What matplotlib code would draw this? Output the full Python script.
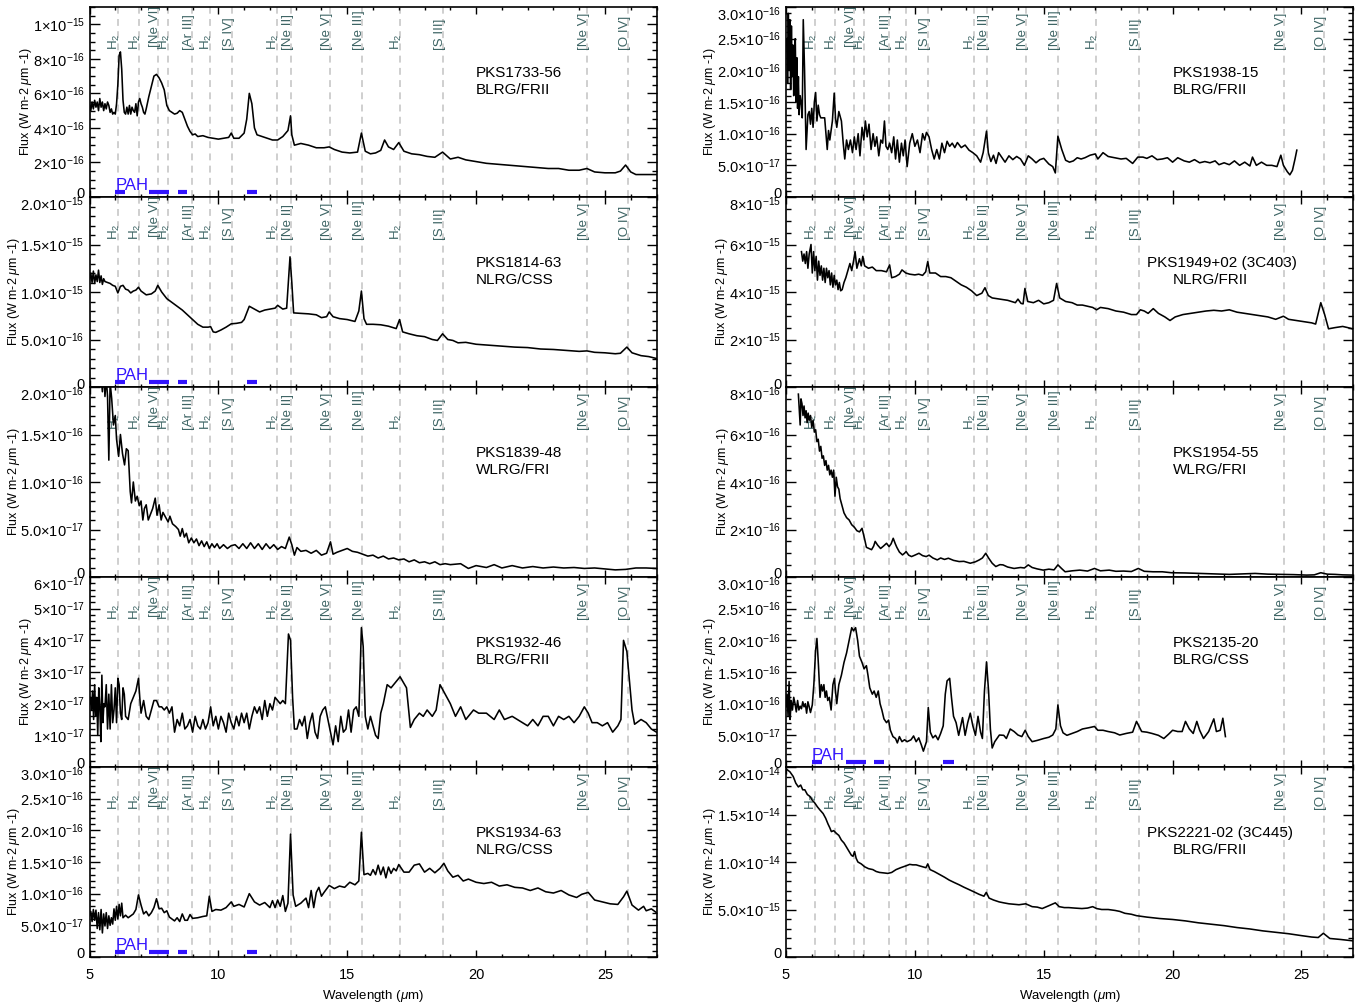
# Mid-IR spectra of 2Jy radio galaxies with emission-line markers
import matplotlib
matplotlib.use('Agg')
import matplotlib.pyplot as plt
import numpy as np
from matplotlib.ticker import MultipleLocator, FixedLocator, FixedFormatter
from matplotlib.transforms import ScaledTranslation

plt.rcParams['font.family'] = ['Liberation Sans', 'DejaVu Sans']
plt.rcParams['mathtext.fontset'] = 'custom'
plt.rcParams['mathtext.rm'] = 'Liberation Sans'
plt.rcParams['mathtext.it'] = 'Liberation Sans:italic'
plt.rcParams['mathtext.bf'] = 'Liberation Sans:bold'

# emission lines (micron) and their labels
line_wl = [6.11, 6.91, 7.65, 8.03, 8.99, 9.66, 10.51, 12.28, 12.81, 14.32,
           15.56, 17.03, 18.71, 24.32, 25.89]
line_names = ['H$_2$', 'H$_2$', '[Ne VI]', 'H$_2$', '[Ar III]', 'H$_2$', '[S IV]',
              'H$_2$', '[Ne II]', '[Ne V]', '[Ne III]', 'H$_2$', '[S III]',
              '[Ne V]', '[O IV]']
pah_lo = [6.0, 7.32, 8.42, 11.1]
pah_hi = [6.38, 8.1, 8.8, 11.5]

# spectra: (wavelength, flux in units given per panel)
spec_1733 = [  # 1e-16
    (5.0, 5.4), (5.05, 5.0), (5.1, 5.5), (5.15, 5.1), (5.2, 5.6), (5.25, 5.2), (5.3, 5.5),
    (5.35, 5.0), (5.4, 5.7), (5.45, 5.2), (5.5, 5.5), (5.55, 5.0), (5.6, 5.4), (5.65, 5.1),
    (5.7, 5.5), (5.75, 5.3), (5.8, 4.9), (5.85, 5.1), (5.9, 4.8), (5.95, 4.9), (6.0, 4.8),
    (6.05, 5.4), (6.1, 6.5), (6.15, 8.2), (6.2, 8.4), (6.25, 7.4), (6.3, 5.6), (6.35, 4.9),
    (6.4, 4.8), (6.45, 5.2), (6.5, 4.8), (6.55, 5.3), (6.6, 4.8), (6.65, 5.2), (6.7, 5.0),
    (6.75, 4.9), (6.8, 5.4), (6.85, 4.7), (6.9, 5.5), (6.95, 5.7), (7.0, 5.4), (7.05, 5.2),
    (7.1, 4.9), (7.15, 4.8), (7.2, 5.1), (7.3, 5.8), (7.4, 6.4), (7.5, 7.0), (7.6, 7.1),
    (7.7, 6.9), (7.8, 6.6), (7.9, 6.2), (8.0, 5.3), (8.1, 5.0), (8.2, 4.9), (8.3, 4.8),
    (8.4, 4.85), (8.5, 5.0), (8.6, 4.9), (8.7, 4.5), (8.8, 4.1), (8.9, 3.8), (9.0, 3.6),
    (9.1, 3.65), (9.2, 3.5), (9.4, 3.55), (9.6, 3.45), (9.8, 3.4), (10.0, 3.35), (10.2, 3.4),
    (10.4, 3.45), (10.5, 3.7), (10.6, 3.4), (10.8, 3.4), (11.0, 3.7), (11.1, 4.5), (11.2, 6.0),
    (11.3, 5.4), (11.4, 4.0), (11.5, 3.6), (11.7, 3.5), (11.9, 3.4), (12.1, 3.3), (12.3, 3.3),
    (12.5, 3.5), (12.7, 3.85), (12.8, 4.7), (12.85, 3.6), (12.95, 3.0), (13.2, 3.1), (13.5, 3.0),
    (13.8, 2.85), (14.1, 2.85), (14.3, 2.9), (14.5, 2.75), (14.8, 2.6), (15.1, 2.55), (15.4, 2.6),
    (15.55, 3.7), (15.7, 2.65), (15.9, 2.5), (16.1, 2.55), (16.3, 2.7), (16.45, 3.3), (16.6, 2.9),
    (16.8, 2.75), (17.0, 3.15), (17.2, 2.65), (17.5, 2.5), (17.8, 2.45), (18.1, 2.35), (18.4, 2.3),
    (18.7, 2.6), (19.0, 2.2), (19.3, 2.3), (19.6, 2.15), (20.0, 2.05), (20.4, 1.95), (20.8, 1.9),
    (21.2, 1.85), (21.6, 1.8), (22.0, 1.75), (22.4, 1.7), (22.8, 1.65), (23.2, 1.65), (23.6, 1.55),
    (24.0, 1.55), (24.3, 1.65), (24.6, 1.45), (25.0, 1.4), (25.4, 1.4), (25.6, 1.5), (25.8, 1.85),
    (26.0, 1.45), (26.2, 1.3), (26.6, 1.3), (27.0, 1.3)]

spec_1814 = [  # 1e-16
    (5.0, 11.3), (5.05, 12.0), (5.1, 11.0), (5.15, 12.2), (5.2, 10.9), (5.25, 11.8), (5.3, 11.1),
    (5.35, 12.3), (5.4, 11.0), (5.45, 11.7), (5.5, 10.8), (5.55, 11.4), (5.6, 11.1), (5.7, 11.0),
    (5.8, 10.9), (5.9, 10.7), (6.0, 10.6), (6.1, 9.9), (6.2, 10.6), (6.3, 10.7), (6.4, 10.3),
    (6.5, 10.2), (6.6, 9.9), (6.7, 10.1), (6.8, 10.2), (6.9, 10.5), (7.0, 10.1), (7.2, 9.7),
    (7.4, 9.8), (7.55, 10.1), (7.65, 10.7), (7.8, 10.0), (8.0, 9.3), (8.2, 8.9), (8.4, 8.5),
    (8.6, 8.1), (8.8, 7.6), (9.0, 7.1), (9.2, 6.6), (9.4, 6.3), (9.6, 6.3), (9.7, 6.35),
    (9.8, 5.8), (9.9, 5.75), (10.1, 6.0), (10.3, 6.3), (10.5, 6.65), (10.7, 6.7), (10.9, 6.8),
    (11.0, 7.1), (11.2, 8.5), (11.4, 8.2), (11.6, 7.9), (11.8, 8.1), (12.0, 8.2), (12.2, 8.3),
    (12.3, 8.6), (12.5, 8.2), (12.65, 8.3), (12.78, 13.7), (12.85, 11.0), (12.92, 7.8),
    (13.2, 7.75), (13.5, 7.7), (13.8, 7.6), (14.0, 7.3), (14.2, 7.4), (14.3, 7.9), (14.45, 7.4),
    (14.7, 7.2), (15.0, 7.1), (15.3, 6.9), (15.45, 8.0), (15.55, 10.1), (15.65, 7.2), (15.75, 6.6),
    (16.0, 6.6), (16.3, 6.55), (16.6, 6.4), (16.9, 6.15), (17.03, 7.1), (17.15, 5.8), (17.4, 5.6),
    (17.7, 5.4), (18.0, 5.3), (18.3, 5.0), (18.5, 4.9), (18.7, 5.6), (18.9, 5.0), (19.1, 4.9),
    (19.3, 4.65), (19.6, 4.7), (20.0, 4.5), (20.5, 4.4), (21.0, 4.3), (21.5, 4.2), (22.0, 4.15),
    (22.5, 4.0), (23.0, 3.95), (23.5, 3.85), (24.0, 3.75), (24.3, 3.8), (24.6, 3.65), (25.0, 3.6),
    (25.4, 3.5), (25.6, 3.55), (25.85, 4.2), (26.05, 3.6), (26.4, 3.3), (26.7, 3.2), (27.0, 3.0)]

spec_1839 = [  # 1e-17
    (5.45, 21), (5.5, 19.5), (5.55, 22), (5.6, 19), (5.65, 21), (5.7, 19), (5.75, 12.3),
    (5.8, 20.5), (5.86, 18.8), (5.93, 16.0), (6.0, 17.0), (6.05, 14.5), (6.13, 12.7), (6.2, 15.0),
    (6.28, 13.0), (6.36, 11.8), (6.43, 13.5), (6.5, 13.3), (6.58, 9.0), (6.63, 7.8), (6.7, 10.0),
    (6.78, 8.0), (6.85, 8.5), (6.93, 7.5), (7.0, 8.0), (7.07, 6.0), (7.13, 7.2), (7.2, 7.6),
    (7.28, 6.0), (7.35, 6.5), (7.45, 7.2), (7.55, 8.3), (7.62, 6.5), (7.7, 7.6), (7.78, 6.0),
    (7.85, 6.8), (7.95, 6.3), (8.05, 5.8), (8.12, 6.4), (8.22, 5.6), (8.35, 5.3), (8.45, 5.0),
    (8.52, 4.3), (8.6, 5.1), (8.68, 4.2), (8.76, 4.6), (8.85, 3.6), (8.95, 4.1), (9.05, 3.6),
    (9.15, 4.0), (9.25, 3.3), (9.35, 3.8), (9.45, 3.2), (9.55, 3.7), (9.65, 3.0), (9.75, 3.5),
    (9.85, 3.1), (9.95, 3.5), (10.05, 3.0), (10.2, 3.4), (10.35, 3.0), (10.5, 3.3), (10.65, 3.4),
    (10.8, 3.0), (10.95, 3.5), (11.1, 3.0), (11.25, 3.6), (11.4, 3.0), (11.55, 3.5), (11.7, 2.9),
    (11.85, 3.5), (12.0, 3.0), (12.15, 3.4), (12.3, 2.9), (12.45, 3.2), (12.6, 3.0), (12.75, 4.2),
    (12.85, 3.4), (12.95, 2.3), (13.05, 3.1), (13.2, 2.7), (13.4, 2.8), (13.6, 2.5), (13.8, 2.8),
    (14.0, 2.3), (14.2, 2.5), (14.35, 3.7), (14.45, 2.4), (14.6, 2.6), (14.8, 2.8), (15.0, 3.0),
    (15.2, 2.7), (15.4, 2.6), (15.6, 2.4), (15.8, 2.2), (16.0, 2.3), (16.2, 2.0), (16.4, 2.2),
    (16.6, 1.9), (16.8, 2.0), (17.0, 1.8), (17.2, 1.9), (17.4, 1.6), (17.6, 1.8), (17.8, 1.5),
    (18.0, 1.6), (18.2, 1.4), (18.4, 1.6), (18.6, 1.3), (18.8, 1.4), (19.0, 1.3), (19.4, 1.4),
    (19.7, 0.9), (20.0, 1.2), (20.4, 1.0), (20.7, 1.3), (21.0, 0.95), (21.4, 1.2), (21.8, 0.95),
    (22.2, 1.1), (22.6, 0.95), (23.0, 1.05), (23.4, 0.95), (23.8, 1.0), (24.2, 0.9), (24.6, 0.95),
    (25.0, 0.85), (25.4, 0.75), (25.8, 0.8), (26.2, 0.95), (26.6, 0.95), (27.0, 0.9)]

spec_1932 = [  # 1e-17
    (5.0, 2.0), (5.04, 2.2), (5.08, 1.8), (5.12, 2.4), (5.16, 1.5), (5.2, 2.6), (5.24, 1.6),
    (5.28, 2.2), (5.32, 1.0), (5.36, 2.5), (5.4, 1.9), (5.44, 0.8), (5.48, 2.9), (5.52, 1.4),
    (5.56, 2.0), (5.6, 1.9), (5.65, 2.6), (5.7, 1.2), (5.75, 2.3), (5.8, 1.2), (5.85, 2.6),
    (5.9, 1.4), (5.95, 1.8), (6.0, 2.5), (6.05, 1.4), (6.1, 2.8), (6.15, 2.6), (6.2, 1.7),
    (6.25, 1.5), (6.3, 2.5), (6.35, 2.3), (6.4, 1.6), (6.5, 1.5), (6.6, 2.0), (6.7, 2.2),
    (6.8, 2.4), (6.9, 2.8), (6.95, 2.2), (7.0, 1.7), (7.1, 2.1), (7.2, 1.6), (7.3, 1.5),
    (7.4, 1.8), (7.5, 2.1), (7.6, 2.1), (7.7, 1.9), (7.8, 1.9), (7.9, 1.8), (8.0, 1.9),
    (8.1, 1.7), (8.2, 1.9), (8.3, 1.1), (8.4, 1.5), (8.5, 1.3), (8.6, 1.7), (8.7, 1.2),
    (8.8, 1.3), (8.9, 1.5), (9.0, 1.1), (9.1, 1.6), (9.2, 1.3), (9.3, 1.2), (9.4, 1.5),
    (9.5, 1.2), (9.6, 1.4), (9.7, 1.9), (9.8, 1.3), (9.9, 1.6), (10.0, 1.2), (10.1, 1.6),
    (10.2, 1.4), (10.3, 1.1), (10.4, 1.7), (10.5, 1.4), (10.6, 1.2), (10.7, 1.6), (10.8, 1.3),
    (10.9, 1.7), (11.0, 1.4), (11.1, 1.7), (11.2, 1.2), (11.3, 1.6), (11.4, 1.9), (11.5, 1.7),
    (11.6, 1.9), (11.7, 1.5), (11.8, 2.1), (11.9, 1.6), (12.0, 2.0), (12.1, 1.8), (12.2, 2.2),
    (12.3, 2.1), (12.4, 2.0), (12.5, 2.1), (12.6, 2.0), (12.72, 4.2), (12.8, 4.0), (12.88, 2.2),
    (12.95, 1.2), (13.05, 1.2), (13.15, 1.5), (13.25, 1.3), (13.35, 1.6), (13.45, 0.9),
    (13.55, 1.4), (13.65, 1.7), (13.75, 1.1), (13.85, 0.9), (13.95, 1.6), (14.05, 1.8),
    (14.15, 1.9), (14.25, 1.5), (14.35, 1.1), (14.45, 0.7), (14.55, 1.3), (14.65, 0.8),
    (14.75, 1.6), (14.85, 1.1), (14.95, 1.2), (15.05, 1.8), (15.15, 1.1), (15.25, 1.8),
    (15.35, 1.9), (15.45, 1.6), (15.55, 4.4), (15.62, 3.8), (15.7, 1.6), (15.8, 1.2),
    (15.9, 1.6), (16.0, 1.3), (16.1, 1.0), (16.2, 0.9), (16.3, 1.7), (16.4, 2.0), (16.55, 2.6),
    (16.7, 2.5), (16.9, 2.7), (17.05, 2.85), (17.3, 2.5), (17.45, 1.25), (17.6, 1.5),
    (17.8, 1.7), (17.95, 1.6), (18.1, 1.8), (18.3, 1.6), (18.45, 1.8), (18.6, 2.6), (18.8, 2.3),
    (19.0, 2.0), (19.2, 1.6), (19.4, 1.9), (19.6, 1.5), (19.9, 1.8), (20.1, 1.7), (20.4, 1.7),
    (20.7, 1.5), (20.9, 1.8), (21.1, 1.5), (21.4, 1.6), (21.6, 1.5), (21.8, 1.4), (22.0, 1.3),
    (22.2, 1.5), (22.4, 1.3), (22.6, 1.6), (22.8, 1.6), (23.0, 1.3), (23.2, 1.6), (23.4, 1.5),
    (23.6, 1.6), (23.8, 1.4), (24.0, 1.6), (24.2, 1.9), (24.35, 1.7), (24.5, 1.4), (24.7, 1.4),
    (24.9, 1.3), (25.1, 1.4), (25.3, 1.1), (25.5, 1.3), (25.62, 1.5), (25.72, 4.0),
    (25.85, 3.65), (26.05, 1.8), (26.15, 1.35), (26.4, 1.5), (26.6, 1.4), (26.8, 1.2), (27.0, 1.1)]

spec_1934 = [  # 1e-17
    (5.0, 6.5), (5.05, 7.2), (5.1, 5.6), (5.15, 7.5), (5.2, 5.8), (5.25, 7.4), (5.3, 4.5),
    (5.35, 7.0), (5.4, 4.3), (5.45, 7.5), (5.5, 3.8), (5.55, 6.8), (5.6, 4.9), (5.65, 7.0),
    (5.7, 4.5), (5.75, 6.5), (5.8, 5.0), (5.85, 6.2), (5.9, 5.2), (5.95, 7.6), (6.0, 5.8),
    (6.05, 8.0), (6.1, 6.0), (6.15, 8.3), (6.2, 6.5), (6.25, 8.5), (6.3, 6.2), (6.4, 6.6),
    (6.5, 6.2), (6.6, 6.5), (6.7, 6.8), (6.8, 7.5), (6.9, 9.8), (7.0, 8.2), (7.1, 6.8),
    (7.2, 7.2), (7.3, 6.5), (7.4, 7.0), (7.5, 7.8), (7.6, 9.2), (7.7, 7.6), (7.8, 7.7),
    (7.9, 7.0), (8.0, 7.3), (8.1, 6.3), (8.2, 6.0), (8.3, 5.7), (8.4, 6.2), (8.5, 5.6),
    (8.6, 6.8), (8.7, 5.8), (8.8, 5.8), (8.9, 6.7), (9.0, 6.1), (9.2, 6.2), (9.4, 6.4),
    (9.55, 6.5), (9.65, 9.6), (9.75, 7.2), (9.9, 7.5), (10.1, 7.4), (10.3, 7.8), (10.5, 8.7),
    (10.6, 8.0), (10.8, 8.3), (11.0, 7.9), (11.2, 10.0), (11.4, 8.7), (11.6, 8.2), (11.8, 8.6),
    (12.0, 7.8), (12.1, 8.9), (12.2, 7.8), (12.3, 9.0), (12.4, 8.0), (12.5, 9.7), (12.6, 7.2),
    (12.7, 8.5), (12.8, 19.4), (12.9, 9.8), (13.0, 8.0), (13.2, 8.5), (13.4, 9.3), (13.5, 7.8),
    (13.6, 10.5), (13.7, 7.8), (13.8, 10.2), (13.9, 11.0), (14.0, 9.6), (14.1, 10.2),
    (14.3, 11.3), (14.5, 10.8), (14.7, 11.2), (14.9, 11.0), (15.1, 11.8), (15.3, 11.4),
    (15.45, 12.0), (15.55, 19.7), (15.65, 13.0), (15.8, 13.2), (15.9, 12.9), (16.0, 13.8),
    (16.1, 13.0), (16.2, 14.5), (16.3, 13.0), (16.4, 14.2), (16.5, 12.5), (16.6, 14.2),
    (16.7, 13.2), (16.8, 14.0), (16.9, 13.6), (17.0, 14.6), (17.2, 13.4), (17.4, 13.4),
    (17.6, 14.5), (17.8, 14.7), (18.0, 13.4), (18.2, 14.0), (18.4, 13.3), (18.6, 14.0),
    (18.75, 14.8), (18.9, 13.6), (19.1, 12.6), (19.3, 12.9), (19.5, 12.0), (19.7, 12.3),
    (20.0, 11.8), (20.3, 11.6), (20.6, 11.8), (20.9, 11.2), (21.2, 11.4), (21.5, 11.0),
    (21.8, 10.9), (22.1, 10.5), (22.4, 10.9), (22.7, 10.3), (23.0, 10.1), (23.3, 10.5),
    (23.6, 9.8), (23.9, 9.4), (24.1, 9.9), (24.35, 10.2), (24.6, 9.0), (24.9, 8.7),
    (25.2, 8.4), (25.5, 8.3), (25.72, 9.5), (25.85, 10.4), (26.05, 8.2), (26.3, 7.4),
    (26.5, 8.0), (26.6, 7.3), (26.8, 7.6), (27.0, 7.0)]

spec_1938 = [  # 1e-17
    (5.03, 25), (5.06, 18), (5.09, 29), (5.12, 20), (5.15, 28), (5.18, 17), (5.21, 27),
    (5.24, 19), (5.27, 24), (5.3, 16), (5.33, 22), (5.36, 25), (5.39, 15), (5.42, 22),
    (5.45, 14), (5.48, 19), (5.51, 13), (5.55, 16), (5.6, 14.5), (5.63, 12.5), (5.67, 28),
    (5.72, 20), (5.78, 7.5), (5.85, 13), (5.9, 13.5), (5.95, 11.5), (6.0, 14), (6.05, 11.0),
    (6.1, 15.0), (6.15, 16.5), (6.2, 12.0), (6.25, 14.5), (6.3, 13.0), (6.35, 12.5),
    (6.4, 12.5), (6.5, 12.5), (6.6, 7.5), (6.65, 10.5), (6.7, 9.0), (6.8, 12.0), (6.87, 16.4),
    (6.92, 12.5), (6.97, 11.0), (7.05, 13.5), (7.15, 12.0), (7.22, 8.5), (7.28, 6.0),
    (7.35, 9.0), (7.42, 7.5), (7.5, 9.0), (7.58, 7.0), (7.65, 9.5), (7.72, 7.5), (7.8, 10.0),
    (7.87, 6.5), (7.95, 11.0), (8.02, 9.0), (8.08, 12.0), (8.15, 9.5), (8.22, 11.5), (8.3, 7.5),
    (8.38, 10.0), (8.45, 8.0), (8.52, 9.5), (8.6, 6.5), (8.68, 9.0), (8.75, 8.5), (8.82, 12.0),
    (8.88, 8.0), (8.95, 7.5), (9.02, 8.5), (9.1, 7.0), (9.18, 9.5), (9.25, 6.0), (9.32, 9.0),
    (9.4, 5.5), (9.48, 8.5), (9.55, 6.5), (9.62, 9.0), (9.7, 4.8), (9.8, 8.5), (9.9, 10.0),
    (10.0, 8.0), (10.1, 9.0), (10.2, 7.0), (10.3, 10.0), (10.38, 9.0), (10.45, 10.2),
    (10.55, 9.5), (10.65, 7.5), (10.75, 6.0), (10.85, 7.5), (10.95, 6.0), (11.05, 8.5),
    (11.15, 7.0), (11.25, 8.8), (11.35, 8.0), (11.45, 8.5), (11.55, 7.8), (11.65, 8.6),
    (11.8, 7.8), (11.95, 8.2), (12.1, 7.4), (12.25, 7.0), (12.4, 6.5), (12.55, 5.5),
    (12.65, 7.0), (12.78, 10.4), (12.85, 7.0), (12.95, 5.6), (13.05, 6.6), (13.15, 5.3),
    (13.25, 7.0), (13.35, 6.4), (13.5, 5.5), (13.65, 6.5), (13.8, 5.9), (13.95, 6.4),
    (14.1, 6.0), (14.25, 5.0), (14.4, 6.5), (14.55, 6.0), (14.7, 5.4), (14.85, 5.9),
    (15.0, 6.1), (15.2, 5.2), (15.35, 4.8), (15.45, 3.8), (15.55, 9.6), (15.7, 7.5),
    (15.85, 5.8), (16.0, 5.5), (16.15, 5.7), (16.3, 6.2), (16.45, 6.0), (16.6, 6.2),
    (16.8, 6.6), (17.0, 6.8), (17.1, 6.0), (17.3, 7.0), (17.5, 6.4), (17.75, 6.2), (18.0, 6.0),
    (18.2, 6.1), (18.45, 5.3), (18.65, 6.3), (18.85, 6.3), (19.0, 6.1), (19.2, 6.5),
    (19.4, 5.9), (19.6, 6.0), (19.8, 6.2), (20.0, 5.5), (20.2, 6.2), (20.45, 5.7),
    (20.65, 5.5), (20.85, 5.9), (21.05, 5.4), (21.25, 5.6), (21.45, 5.4), (21.65, 5.7),
    (21.8, 5.1), (22.0, 5.4), (22.2, 5.1), (22.4, 5.7), (22.6, 5.0), (22.8, 5.5), (23.0, 4.9),
    (23.1, 6.3), (23.25, 5.0), (23.45, 5.5), (23.65, 5.0), (23.85, 5.0), (24.05, 4.8),
    (24.2, 6.6), (24.3, 5.0), (24.45, 4.0), (24.55, 3.5), (24.65, 4.2), (24.75, 6.0),
    (24.82, 7.4)]

spec_1949 = [  # 1e-16
    (5.6, 57), (5.65, 53), (5.7, 56), (5.75, 52), (5.8, 57), (5.85, 50), (5.9, 56), (5.97, 60),
    (6.02, 48), (6.07, 57), (6.12, 49), (6.17, 55), (6.22, 45), (6.27, 53), (6.32, 47),
    (6.37, 51), (6.42, 45), (6.47, 50), (6.52, 44), (6.57, 50), (6.62, 46), (6.67, 49),
    (6.72, 43), (6.77, 48), (6.82, 42), (6.87, 47), (6.92, 43), (6.97, 45), (7.02, 41),
    (7.07, 44), (7.12, 40.5), (7.18, 41), (7.25, 44), (7.32, 46), (7.4, 49), (7.48, 52),
    (7.55, 49), (7.62, 53), (7.68, 57), (7.75, 50), (7.85, 54), (7.92, 51), (7.98, 55),
    (8.05, 51), (8.2, 50), (8.35, 50.5), (8.5, 49), (8.7, 49), (8.9, 48.5), (9.02, 51.4),
    (9.1, 46), (9.25, 46.5), (9.4, 47.5), (9.5, 49.3), (9.65, 48), (9.8, 47.5), (10.0, 47.2),
    (10.15, 47.5), (10.3, 47), (10.42, 48.5), (10.5, 52.8), (10.58, 48), (10.8, 48),
    (11.0, 46.5), (11.2, 46.5), (11.4, 46), (11.6, 44.5), (11.8, 43), (12.0, 42), (12.2, 40.5),
    (12.4, 38.5), (12.6, 39.5), (12.72, 41.8), (12.85, 38.5), (13.0, 37.5), (13.3, 37.0),
    (13.6, 36.5), (13.9, 35.5), (14.0, 37.0), (14.12, 35.2), (14.2, 35), (14.27, 41.5),
    (14.38, 36), (14.6, 35.5), (14.8, 36.5), (15.0, 35), (15.2, 35.5), (15.38, 36.5),
    (15.5, 43.6), (15.62, 37.5), (15.85, 36), (16.1, 35.5), (16.3, 34.5), (16.5, 34.5),
    (16.7, 34), (16.9, 33.5), (17.05, 32.5), (17.2, 33.5), (17.5, 33), (17.8, 32), (18.1, 31.5),
    (18.4, 30.5), (18.6, 30.5), (18.75, 32.5), (18.9, 32), (19.05, 31), (19.25, 33.0),
    (19.45, 31), (19.7, 29.5), (19.9, 28), (20.1, 29.5), (20.4, 30.5), (20.7, 31), (21.0, 31.5),
    (21.3, 32), (21.6, 32.3), (21.9, 32), (22.2, 32.5), (22.5, 31.5), (22.8, 31), (23.1, 30.5),
    (23.4, 30), (23.7, 29.5), (24.0, 28.5), (24.3, 29.8), (24.5, 28.5), (24.8, 28), (25.1, 27.5),
    (25.4, 27), (25.55, 26.5), (25.75, 35.5), (25.9, 30.5), (26.05, 24.5), (26.3, 25),
    (26.6, 25.5), (26.8, 25), (27.0, 24.4)]

spec_1954 = [  # 1e-17
    (5.48, 77), (5.52, 70), (5.55, 64), (5.58, 75), (5.62, 73), (5.66, 68), (5.7, 72),
    (5.74, 67), (5.78, 70), (5.82, 65), (5.86, 69), (5.9, 66), (5.95, 68), (6.0, 63), (6.05, 66),
    (6.1, 61), (6.15, 62), (6.2, 57), (6.25, 58), (6.3, 53), (6.35, 55), (6.4, 50), (6.45, 51),
    (6.5, 47), (6.55, 49), (6.6, 45), (6.65, 47), (6.7, 43), (6.75, 45), (6.8, 42), (6.85, 45),
    (6.9, 34), (6.95, 42), (7.0, 38), (7.05, 37), (7.1, 33), (7.15, 31), (7.2, 29), (7.25, 27),
    (7.35, 25), (7.45, 24), (7.55, 22), (7.65, 21), (7.75, 19.5), (7.85, 19), (7.95, 20.5),
    (8.05, 16), (8.12, 12.5), (8.22, 12), (8.32, 11.5), (8.4, 13), (8.46, 15), (8.55, 13.5),
    (8.67, 12), (8.78, 13), (8.9, 14.2), (9.0, 12.8), (9.08, 14), (9.16, 16.3), (9.24, 14),
    (9.3, 12.5), (9.4, 10.5), (9.52, 9.3), (9.6, 10), (9.66, 10.7), (9.76, 9.2), (9.87, 8.6),
    (10.0, 9.2), (10.16, 10.0), (10.3, 9.0), (10.44, 8.6), (10.55, 9.2), (10.7, 8.0),
    (10.87, 7.2), (11.0, 8.0), (11.15, 7.4), (11.3, 7.9), (11.5, 7.0), (11.72, 6.5),
    (11.9, 6.6), (12.15, 5.8), (12.35, 6.4), (12.5, 7.2), (12.62, 8.0), (12.75, 10.0),
    (12.86, 8.0), (13.0, 5.8), (13.14, 4.4), (13.3, 5.2), (13.42, 5.1), (13.6, 4.2),
    (13.85, 3.6), (14.1, 4.0), (14.25, 3.8), (14.4, 5.1), (14.55, 4.0), (14.75, 3.4),
    (14.98, 2.9), (15.2, 3.3), (15.4, 3.0), (15.55, 5.1), (15.7, 3.5), (15.83, 2.2),
    (16.1, 2.6), (16.4, 2.9), (16.7, 2.5), (16.97, 3.6), (17.2, 2.6), (17.54, 2.9), (17.8, 2.4),
    (18.1, 2.5), (18.4, 2.3), (18.67, 3.6), (18.9, 2.4), (19.24, 2.2), (19.6, 2.2),
    (19.95, 1.8), (20.5, 1.7), (21.1, 1.5), (21.6, 1.3), (22.2, 1.1), (22.7, 1.3), (23.2, 1.5),
    (23.7, 1.2), (24.2, 1.1), (24.7, 1.0), (25.2, 0.8), (25.5, 0.9), (25.75, 1.8), (26.0, 1.2),
    (26.3, 1.1), (26.6, 0.9), (26.9, 0.8), (27.0, 0.8)]

spec_2135 = [  # 1e-17
    (5.0, 9.5), (5.04, 11.5), (5.08, 8.0), (5.12, 13.5), (5.16, 7.5), (5.2, 10.5), (5.25, 9.0),
    (5.3, 11.0), (5.35, 10.0), (5.4, 8.7), (5.45, 10.5), (5.5, 9.0), (5.55, 9.6), (5.6, 9.2),
    (5.65, 10.3), (5.7, 9.5), (5.75, 10.0), (5.8, 8.5), (5.85, 10.3), (5.9, 9.5), (5.95, 8.6),
    (6.02, 9.8), (6.08, 13.0), (6.15, 18.5), (6.2, 20.3), (6.26, 16.0), (6.32, 11.0),
    (6.37, 13.0), (6.42, 12.0), (6.47, 13.0), (6.52, 11.0), (6.57, 12.0), (6.62, 10.5),
    (6.68, 11.0), (6.75, 9.0), (6.82, 13.0), (6.88, 14.0), (6.92, 12.0), (6.97, 10.0),
    (7.05, 13.0), (7.15, 14.5), (7.25, 16.5), (7.35, 18.0), (7.45, 20.0), (7.55, 22.0),
    (7.62, 21.5), (7.7, 22.0), (7.78, 20.0), (7.85, 17.5), (7.95, 16.5), (8.03, 15.5),
    (8.12, 16.0), (8.18, 14.5), (8.25, 12.5), (8.35, 11.5), (8.42, 12.0), (8.5, 11.0),
    (8.58, 12.0), (8.65, 10.0), (8.72, 9.0), (8.8, 7.6), (8.9, 7.0), (8.98, 7.4), (9.05, 5.8),
    (9.15, 4.8), (9.25, 4.5), (9.32, 3.8), (9.4, 4.8), (9.5, 4.0), (9.6, 4.3), (9.7, 4.0),
    (9.85, 4.3), (9.95, 4.9), (10.05, 4.0), (10.15, 4.6), (10.25, 3.5), (10.33, 2.5),
    (10.45, 4.0), (10.52, 9.4), (10.6, 5.5), (10.7, 4.6), (10.8, 5.0), (10.9, 4.3), (11.0, 5.3),
    (11.1, 6.5), (11.18, 11.5), (11.25, 13.6), (11.35, 14.0), (11.42, 11.0), (11.5, 8.0),
    (11.6, 7.0), (11.7, 5.0), (11.78, 6.5), (11.85, 7.8), (11.95, 5.0), (12.05, 7.0),
    (12.15, 8.5), (12.25, 6.5), (12.35, 5.0), (12.45, 8.0), (12.55, 5.5), (12.62, 4.5),
    (12.7, 12.0), (12.78, 16.6), (12.86, 12.0), (12.93, 6.0), (13.0, 3.0), (13.1, 4.0),
    (13.28, 5.05), (13.45, 5.0), (13.55, 4.5), (13.7, 6.0), (13.85, 5.6), (14.0, 5.05),
    (14.15, 4.8), (14.28, 5.8), (14.4, 4.8), (14.55, 4.0), (14.75, 4.2), (15.0, 4.5),
    (15.2, 4.7), (15.35, 5.05), (15.47, 6.0), (15.55, 9.8), (15.65, 6.5), (15.75, 5.4),
    (15.9, 5.0), (16.1, 5.3), (16.3, 5.6), (16.5, 6.0), (16.75, 6.2), (16.97, 6.4), (17.1, 5.8),
    (17.3, 5.8), (17.5, 5.6), (17.75, 5.4), (17.95, 5.05), (18.2, 5.3), (18.45, 5.5),
    (18.6, 7.2), (18.8, 5.6), (19.0, 5.5), (19.2, 5.3), (19.45, 5.0), (19.66, 4.5), (19.85, 5.2),
    (20.0, 5.8), (20.2, 5.6), (20.37, 5.6), (20.5, 7.2), (20.65, 6.0), (20.8, 5.3), (20.94, 7.2),
    (21.05, 5.8), (21.2, 4.5), (21.4, 5.6), (21.6, 7.6), (21.7, 5.6), (21.85, 5.8), (21.95, 7.7),
    (22.05, 4.8)]

spec_2221 = [  # 1e-15
    (5.05, 19.7), (5.15, 19.5), (5.28, 19.0), (5.38, 18.3), (5.48, 17.9), (5.57, 18.1),
    (5.65, 17.6), (5.73, 17.6), (5.83, 17.1), (5.93, 16.9), (6.02, 16.5), (6.12, 16.2),
    (6.22, 15.8), (6.31, 15.5), (6.44, 15.1), (6.54, 14.6), (6.63, 14.0), (6.7, 13.6),
    (6.76, 13.2), (6.85, 13.3), (6.96, 13.0), (7.05, 12.8), (7.15, 12.3), (7.25, 12.0),
    (7.34, 11.6), (7.45, 11.1), (7.54, 10.7), (7.6, 10.6), (7.66, 11.1), (7.72, 10.4),
    (7.79, 10.0), (7.92, 9.8), (8.05, 9.5), (8.2, 9.3), (8.37, 9.2), (8.5, 9.0), (8.63, 8.9),
    (8.8, 8.85), (8.95, 8.8), (9.1, 8.9), (9.27, 9.2), (9.45, 9.4), (9.66, 9.6), (9.8, 9.75),
    (9.92, 9.7), (10.05, 9.7), (10.17, 9.6), (10.3, 9.5), (10.43, 9.4), (10.5, 9.8),
    (10.59, 9.2), (10.75, 9.0), (10.95, 8.7), (11.15, 8.4), (11.33, 8.1), (11.52, 7.85),
    (11.72, 7.6), (11.9, 7.35), (12.1, 7.1), (12.3, 6.85), (12.49, 6.6), (12.68, 6.4),
    (12.77, 6.8), (12.88, 6.2), (13.05, 6.0), (13.27, 5.8), (13.45, 5.7), (13.65, 5.6),
    (13.85, 5.55), (14.04, 5.5), (14.3, 5.6), (14.55, 5.3), (14.75, 5.25), (14.94, 5.1),
    (15.2, 5.4), (15.45, 5.7), (15.6, 5.3), (15.8, 5.2), (15.97, 5.2), (16.2, 5.15),
    (16.48, 5.1), (16.7, 5.15), (16.9, 5.3), (17.05, 5.1), (17.25, 5.0), (17.5, 5.0),
    (17.77, 4.9), (17.95, 4.8), (18.15, 4.6), (18.4, 4.5), (18.6, 4.35), (19.0, 4.2),
    (19.5, 4.05), (20.0, 3.95), (20.5, 3.8), (21.0, 3.6), (21.5, 3.45), (22.0, 3.3),
    (22.5, 3.1), (23.0, 2.95), (23.5, 2.75), (24.0, 2.6), (24.5, 2.45), (25.0, 2.25),
    (25.4, 2.1), (25.65, 2.05), (25.85, 2.5), (26.1, 1.95), (26.5, 1.85), (27.0, 1.7)]

# panel: name, class, spectrum, unit, ymax, major step, n minor, decimals, PAH, col, row, name x
panels = [
    ('PKS1733-56', 'BLRG/FRII', spec_1733, 1e-16, 1.1e-15, 2e-16, 4, 0, True, 0, 0, 20),
    ('PKS1814-63', 'NLRG/CSS', spec_1814, 1e-16, 2.0e-15, 5e-16, 5, 1, True, 0, 1, 20),
    ('PKS1839-48', 'WLRG/FRI', spec_1839, 1e-17, 2.0e-16, 5e-17, 5, 1, False, 0, 2, 20),
    ('PKS1932-46', 'BLRG/FRII', spec_1932, 1e-17, 6e-17, 1e-17, 5, 0, False, 0, 3, 20),
    ('PKS1934-63', 'NLRG/CSS', spec_1934, 1e-17, 3.0e-16, 5e-17, 5, 1, True, 0, 4, 20),
    ('PKS1938-15', 'BLRG/FRII', spec_1938, 1e-17, 3.0e-16, 5e-17, 5, 1, False, 1, 0, 20),
    ('PKS1949+02 (3C403)', 'NLRG/FRII', spec_1949, 1e-16, 8e-15, 2e-15, 4, 0, False, 1, 1, 19),
    ('PKS1954-55', 'WLRG/FRI', spec_1954, 1e-17, 8e-16, 2e-16, 4, 0, False, 1, 2, 20),
    ('PKS2135-20', 'BLRG/CSS', spec_2135, 1e-17, 3.0e-16, 5e-17, 5, 1, True, 1, 3, 20),
    ('PKS2221-02 (3C445)', 'BLRG/FRII', spec_2221, 1e-15, 2.0e-14, 5e-15, 5, 1, False, 1, 4, 19),
]

LINE_COL = '#3d6464'
PAH_COL = '#3214ff'
W, H = 1358.0, 1006.0


def flux_label(v, dec):
    if v <= 0:
        return '0'
    e = int(np.floor(np.log10(v) + 1e-6))
    m = v / 10.0 ** e
    return r'$%.*f{\times}10^{%d}$' % (dec, m, e)


fig = plt.figure(figsize=(W / 100, H / 100), dpi=100)

for (name, cls, spec, unit, ymax, step, nminor, dec, pah, col, row, nx) in panels:
    left = [89.5, 786.0][col] / W
    bottom = 1 - (197.0 + 190.0 * row) / H
    ax = fig.add_axes([left, bottom, 567.0 / W, 190.0 / H])
    wl, fx = np.array(spec).T
    ax.plot(wl, fx * unit, color='k', lw=1.15, zorder=3)

    tr = ax.get_xaxis_transform()
    for x, lab in zip(line_wl, line_names):
        ax.axvline(x, color='#c2c2c2', lw=1.1, dashes=(4.5, 3.5), zorder=1)
        y0 = 0.79 if lab == '[Ne VI]' else 0.772
        ax.text(x, y0, lab, transform=tr, rotation=90, rotation_mode='anchor',
                ha='left', va='baseline', fontsize=9.6, color=LINE_COL, zorder=2)

    if pah:
        for lo, hi in zip(pah_lo, pah_hi):
            ax.plot([lo, hi], [0.024, 0.024], transform=tr, color=PAH_COL, lw=3,
                    solid_capstyle='butt', zorder=4)
        ax.text(6.0, 0.037, 'PAH', transform=tr, color=PAH_COL, fontsize=12,
                va='baseline', ha='left', zorder=4)

    ax.text(nx, 0.633, name, transform=tr, fontsize=11, va='baseline', ha='left')
    ax.text(20, 0.54, cls, transform=tr, fontsize=11, va='baseline', ha='left')

    ax.set_xlim(5, 27)
    ax.set_ylim(0, ymax)
    ax.xaxis.set_major_locator(MultipleLocator(5))
    ax.xaxis.set_minor_locator(MultipleLocator(1))
    nt = int(round(ymax / step + 1e-6))
    ticks = [k * step for k in range(nt + 1)]
    ax.yaxis.set_major_locator(FixedLocator(ticks))
    ax.yaxis.set_major_formatter(FixedFormatter([flux_label(t, dec) for t in ticks]))
    ax.yaxis.set_minor_locator(MultipleLocator(step / nminor))

    ax.tick_params(which='both', direction='in', top=True, right=True, labelsize=10.5,
                   colors='k')
    ax.tick_params(axis='y', which='major', length=7, width=1)
    ax.tick_params(axis='y', which='minor', length=3.5, width=1)
    ax.tick_params(axis='x', which='major', length=5, width=1)
    ax.tick_params(axis='x', which='minor', length=2.5, width=1)
    for sp in ax.spines.values():
        sp.set_linewidth(1.2)

    # nudge the "0" label up and a label sitting on the top edge down
    yt = ax.yaxis.get_major_ticks()
    lab0 = yt[0].label1
    lab0.set_transform(lab0.get_transform() + ScaledTranslation(0, 0.04, fig.dpi_scale_trans))
    if abs(ticks[-1] - ymax) < 1e-3 * ymax:
        labt = yt[-1].label1
        labt.set_transform(labt.get_transform() + ScaledTranslation(0, -0.06, fig.dpi_scale_trans))

    ax.set_ylabel('Flux (W m-2 $\\mu$m -1)', fontsize=9, labelpad=-1)
    if row == 4:
        ax.set_xlabel('Wavelength ($\\mu$m)', fontsize=9.5)
        ax.tick_params(axis='x', labelsize=10.5, pad=8)
    else:
        ax.tick_params(axis='x', labelbottom=False)

fig.savefig('out.png', dpi=100)
